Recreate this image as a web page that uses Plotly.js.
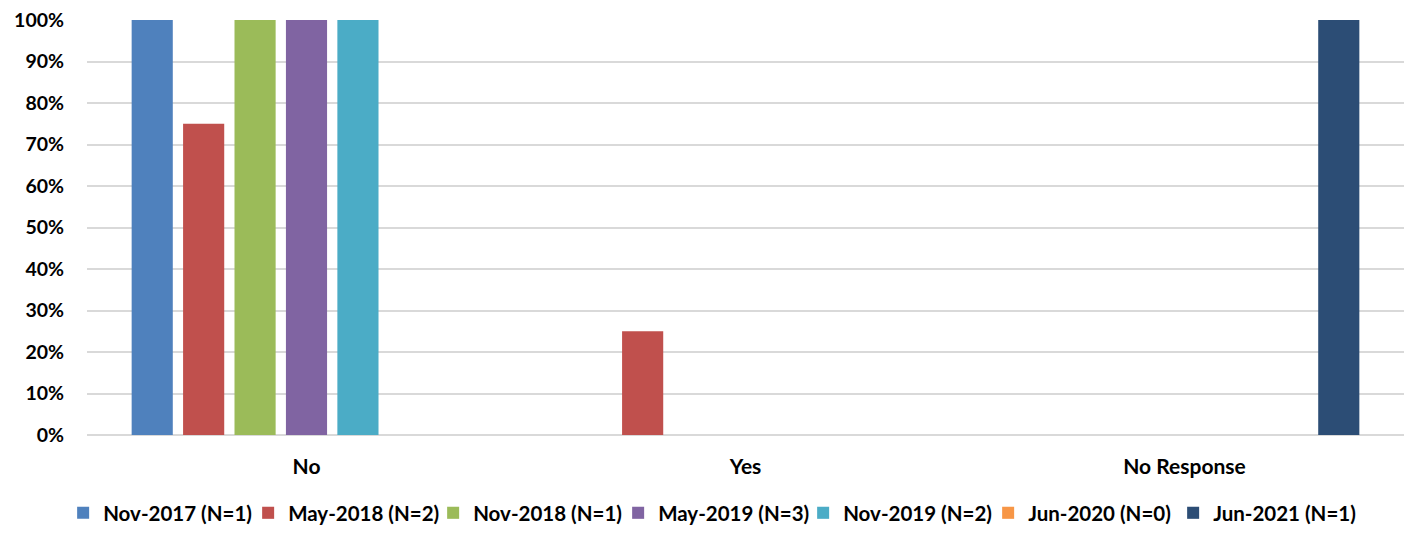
<!DOCTYPE html>
<html>
<head>
<meta charset="utf-8">
<script src="https://cdn.plot.ly/plotly-3.0.1.min.js"></script>
<style>html,body{margin:0;padding:0;background:#fff}#chart{width:1410px;height:533px}</style>
</head>
<body>
<div id="chart"></div>
<script>
const categories = ["No", "Yes", "No Response"];
const seriesNames = ["Nov-2017 (N=1)", "May-2018 (N=2)", "Nov-2018 (N=1)", "May-2019 (N=3)", "Nov-2019 (N=2)", "Jun-2020 (N=0)", "Jun-2021 (N=1)"];
const nov2017 = [100, 0, 0];
const may2018 = [75, 25, 0];
const nov2018 = [100, 0, 0];
const may2019 = [100, 0, 0];
const nov2019 = [100, 0, 0];
const jun2020 = [0, 0, 0];
const jun2021 = [0, 0, 100];
const seriesValues = [nov2017, may2018, nov2018, may2019, nov2019, jun2020, jun2021];
const colors = ["#4F81BD", "#C0504D", "#9BBB59", "#8064A2", "#4BACC6", "#F79646", "#2C4D75"];

const FONT = "Lato, 'Open Sans', sans-serif";
const traces = seriesNames.map((n, i) => ({
  type: "bar",
  name: n,
  x: categories,
  y: seriesValues[i],
  marker: {color: colors[i]},
  hoverinfo: "skip"
}));

const layout = {
  width: 1410, height: 533,
  margin: {l: 87, r: 6, t: 20, b: 98},
  paper_bgcolor: "#fff", plot_bgcolor: "#fff",
  barmode: "group",
  bargap: 0.18,
  bargroupgap: 0.2,
  font: {family: FONT, size: 20, color: "#000", weight: "bold"},
  xaxis: {
    showgrid: false, showline: false, zeroline: false,
    ticks: "", ticklabelstandoff: 17,
    tickfont: {family: FONT, size: 21, color: "#000", weight: "bold"}
  },
  yaxis: {
    range: [0, 100], dtick: 10, ticksuffix: "%",
    showgrid: true, gridcolor: "#D9D9D9", gridwidth: 2,
    zeroline: true, zerolinecolor: "#D9D9D9", zerolinewidth: 2,
    showline: false, ticks: "", ticklabelstandoff: 22,
    tickfont: {family: FONT, size: 19.5, color: "#000", weight: "bold"}
  },
  showlegend: true,
  legend: {
    orientation: "h", x: 0.504, xanchor: "center", xref: "container",
    y: -0.012, yanchor: "bottom", yref: "container",
    font: {family: FONT, size: 20.5, color: "#000", weight: "bold"},
    itemwidth: 30, tracegroupgap: 0,
    entrywidth: 140, entrywidthmode: "pixels"
  }
};

Plotly.newPlot("chart", traces, layout, {staticPlot: true, displayModeBar: false});
</script>
</body>
</html>
